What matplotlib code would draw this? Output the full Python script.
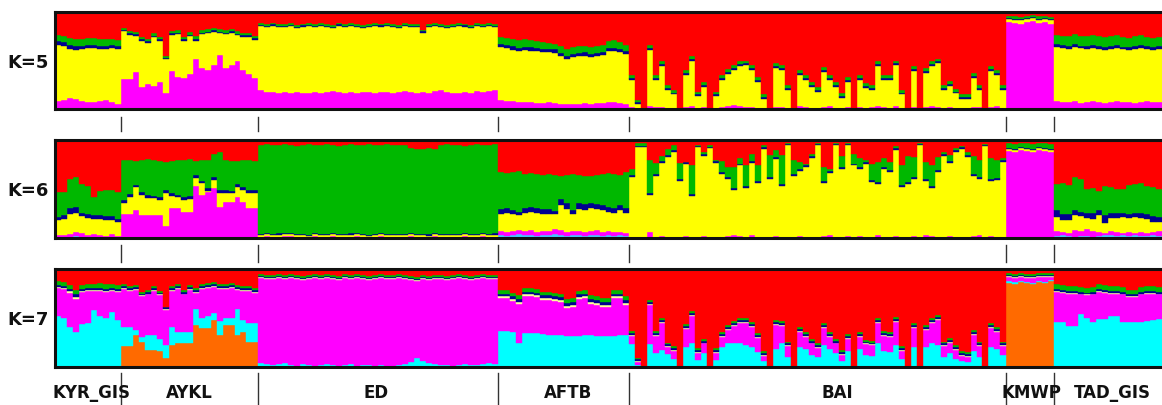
import numpy as np
import matplotlib.pyplot as plt
from matplotlib.transforms import blended_transform_factory

# populations, in plot order, and number of individuals in each
groups = ['KYR_GIS', 'AYKL', 'ED', 'AFTB', 'BAI', 'KMWP', 'TAD_GIS']
group_sizes = [11, 23, 40, 22, 63, 8, 18]

# ---- K=5 (percent, read from the bottom of each bar) ----
# magenta top, yellow top, navy band, start of red
k5_magenta = [
    8, 9, 11, 10, 8, 7, 7, 8, 9, 7, 5,
    31, 31, 38, 23, 26, 24, 28, 16, 39, 33, 32, 36, 52, 42, 40, 45, 56, 42, 45, 49, 40, 36, 32,
    20, 18, 18, 17, 18, 17, 18, 17, 17, 18, 17, 18, 19, 18, 17, 18, 17, 18, 18, 17,
    18, 18, 17, 18, 19, 18, 17, 18, 17, 19, 20, 18, 17, 17, 18, 17, 19, 18, 19, 20,
    9, 8, 8, 7, 7, 7, 6, 6, 7, 6, 5, 5, 5, 5, 6, 5, 6, 6, 7, 7, 6, 5,
    2, 0, 0, 3, 2, 2, 1, 1, 0, 2, 3, 1, 2, 0, 1, 2, 3, 4, 3, 2, 2, 1, 1, 0, 2,
    2, 1, 0, 3, 2, 1, 1, 2, 3, 1, 1, 2, 0, 2, 1, 2, 3, 2, 1, 3, 1, 0, 2, 0, 2, 3, 2, 1, 2, 1, 1, 1, 2, 2, 0, 2, 3, 1,
    90, 89, 88, 90, 91, 89, 90, 88,
    8, 7, 7, 8, 6, 7, 8, 7, 6, 7, 8, 7, 7, 6, 7, 8, 7, 7,
]
k5_yellow = [
    66, 65, 62, 61, 62, 63, 63, 62, 62, 63, 62,
    80, 76, 75, 70, 68, 74, 70, 52, 76, 77, 70, 75, 70, 77, 78, 79, 78, 77, 78, 76, 74, 74, 71,
    86, 85, 86, 85, 85, 86, 84, 85, 86, 85, 86, 85, 84, 86, 85, 86, 85, 84, 85, 86,
    85, 86, 85, 84, 86, 85, 85, 78, 85, 86, 85, 84, 85, 86, 85, 84, 86, 85, 86, 85,
    64, 63, 61, 60, 61, 60, 60, 59, 59, 58, 55, 52, 54, 55, 55, 54, 55, 56, 60, 60, 59, 57,
    30, 5, 0, 61, 30, 44, 20, 15, 0, 35, 50, 13, 23, 0, 13, 30, 36, 40, 44, 45, 40, 28, 10, 0, 42,
    40, 20, 0, 35, 30, 23, 18, 38, 30, 23, 11, 28, 0, 30, 22, 20, 44, 30, 30, 45, 15, 0, 39, 0, 37, 44, 47, 20, 24, 16, 10, 10, 32, 20, 0, 39, 35, 20,
    93, 92, 92, 93, 94, 92, 93, 92,
    64, 63, 62, 64, 63, 62, 63, 62, 61, 62, 63, 62, 61, 62, 63, 62, 61, 62,
]
k5_navy = [
    4, 4, 4, 4, 3, 3, 3, 3, 3, 3, 3,
    1, 2, 2, 2, 2, 1, 2, 1, 2, 1, 2, 1, 2, 1, 1, 2, 1, 1, 2, 1, 2, 2, 2,
    1, 1, 2, 1, 1, 1, 1, 2, 1, 1, 1, 1, 1, 2, 1, 1, 1, 1, 1, 1,
    2, 1, 1, 1, 1, 1, 1, 2, 1, 1, 1, 1, 1, 1, 2, 1, 1, 1, 1, 1,
    3, 3, 4, 3, 3, 4, 3, 3, 3, 4, 3, 3, 3, 3, 4, 3, 3, 3, 3, 3, 3, 3,
    2, 2, 1, 2, 2, 2, 2, 2, 1, 2, 2, 2, 2, 1, 2, 2, 2, 2, 2, 2, 2, 2, 2, 1, 2,
    2, 2, 1, 2, 2, 2, 2, 2, 2, 2, 2, 2, 1, 2, 2, 2, 2, 2, 2, 2, 2, 1, 2, 1, 2, 2, 2, 2, 2, 2, 2, 2, 2, 2, 1, 2, 2, 2,
    1, 1, 1, 1, 1, 1, 1, 1,
    3, 3, 3, 3, 2, 3, 3, 3, 3, 3, 3, 2, 3, 3, 3, 3, 3, 3,
]
k5_red = [
    76, 75, 73, 72, 72, 73, 73, 72, 72, 72, 71,
    84, 80, 79, 74, 72, 78, 74, 55, 80, 81, 74, 79, 75, 81, 82, 83, 82, 81, 82, 80, 78, 78, 75,
    89, 88, 89, 88, 88, 89, 87, 88, 89, 88, 89, 88, 87, 89, 88, 89, 88, 87, 88, 89,
    88, 89, 88, 87, 89, 88, 88, 81, 88, 89, 88, 87, 88, 89, 88, 87, 89, 88, 89, 88,
    74, 73, 72, 71, 72, 71, 70, 69, 68, 67, 65, 62, 64, 65, 65, 64, 65, 66, 70, 71, 69, 66,
    35, 9, 1, 66, 35, 49, 25, 20, 1, 40, 55, 18, 28, 1, 18, 35, 41, 45, 49, 50, 45, 33, 15, 1, 47,
    45, 25, 1, 40, 35, 28, 23, 43, 35, 28, 16, 33, 1, 35, 27, 25, 49, 35, 35, 50, 20, 1, 44, 1, 42, 49, 52, 25, 29, 21, 15, 15, 37, 25, 1, 44, 40, 25,
    96, 96, 95, 96, 97, 96, 96, 95,
    76, 75, 75, 77, 75, 75, 76, 75, 74, 75, 76, 74, 73, 75, 76, 74, 73, 74,
]

# ---- K=6 ----
# sky-blue band, magenta top, yellow top, navy band, start of red
k6_sky = [
    1, 0, 1, 2, 1, 0, 1, 1, 0, 1, 0,
    0, 0, 0, 0, 0, 0, 0, 0, 0, 0, 0, 0, 0, 0, 0, 0, 0, 0, 0, 0, 0, 0, 0,
    0, 0, 0, 0, 0, 1, 0, 0, 0, 0, 0, 0, 0, 0, 0, 0, 0, 0, 0, 0,
    0, 0, 0, 0, 0, 0, 0, 0, 0, 0, 0, 0, 0, 0, 0, 0, 0, 0, 0, 0,
    3, 2, 3, 4, 3, 3, 2, 3, 3, 4, 3, 2, 3, 3, 2, 3, 3, 2, 3, 2, 3, 2,
    0, 0, 0, 0, 0, 0, 0, 0, 0, 0, 0, 0, 0, 0, 0, 0, 0, 0, 0, 0, 0, 0, 0, 0, 0,
    0, 0, 0, 0, 0, 0, 0, 0, 0, 0, 0, 0, 0, 0, 0, 0, 0, 0, 0, 0, 0, 0, 0, 0, 0, 0, 0, 0, 0, 0, 0, 0, 0, 0, 0, 0, 0, 0,
    0, 0, 0, 0, 0, 0, 0, 0,
    2, 3, 2, 1, 2, 2, 1, 2, 3, 3, 2, 3, 2, 3, 2, 2, 3, 2,
]
k6_magenta = [
    3, 3, 4, 6, 5, 3, 4, 3, 2, 4, 2,
    24, 24, 29, 23, 23, 23, 23, 12, 31, 31, 27, 27, 53, 44, 47, 51, 32, 37, 37, 42, 37, 31, 31,
    1, 2, 1, 1, 2, 2, 1, 1, 1, 2, 1, 1, 2, 1, 1, 1, 2, 1, 1, 1,
    2, 1, 1, 1, 1, 2, 1, 1, 1, 2, 1, 1, 1, 1, 2, 1, 1, 2, 1, 1,
    7, 6, 7, 8, 7, 8, 6, 7, 7, 9, 8, 6, 7, 7, 6, 7, 8, 6, 7, 6, 6, 5,
    1, 0, 0, 6, 1, 2, 1, 1, 0, 2, 1, 1, 2, 1, 1, 1, 2, 3, 2, 1, 3, 1, 1, 0, 2,
    1, 1, 0, 2, 1, 1, 0, 2, 3, 1, 1, 2, 0, 2, 1, 1, 3, 1, 1, 2, 1, 0, 2, 0, 3, 2, 1, 1, 2, 1, 1, 1, 2, 3, 1, 2, 1, 1,
    89, 88, 90, 89, 88, 90, 89, 88,
    7, 6, 5, 8, 7, 9, 7, 6, 5, 7, 6, 5, 6, 5, 6, 5, 6, 7,
]
k6_yellow = [
    18, 19, 25, 26, 22, 20, 19, 19, 18, 18, 16,
    36, 42, 52, 44, 41, 41, 39, 46, 43, 42, 39, 40, 61, 56, 48, 59, 46, 46, 46, 52, 49, 46, 46,
    3, 4, 3, 3, 4, 4, 3, 3, 2, 4, 3, 3, 4, 3, 3, 3, 4, 3, 2, 3,
    4, 3, 3, 3, 3, 4, 3, 3, 2, 4, 3, 3, 3, 3, 4, 3, 3, 4, 3, 3,
    25, 26, 24, 23, 26, 27, 26, 25, 25, 24, 34, 30, 25, 30, 29, 31, 30, 29, 27, 26, 29, 26,
    62, 93, 93, 44, 63, 77, 83, 88, 58, 76, 43, 93, 84, 92, 77, 65, 60, 49, 74, 51, 77, 56, 91, 60, 81,
    53, 95, 63, 68, 72, 82, 95, 56, 66, 95, 70, 95, 74, 70, 76, 57, 55, 70, 67, 90, 52, 55, 60, 95, 58, 51, 67, 84, 77, 88, 91, 83, 63, 60, 94, 58, 59, 78,
    91, 90, 92, 91, 90, 92, 91, 90,
    21, 18, 18, 23, 22, 20, 19, 23, 15, 20, 20, 21, 20, 21, 20, 19, 16, 16,
]
k6_navy = [
    3, 4, 6, 6, 4, 4, 4, 4, 4, 4, 3,
    3, 3, 2, 3, 3, 2, 3, 3, 3, 2, 3, 3, 3, 2, 3, 3, 3, 3, 2, 3, 3, 3, 3,
    1, 1, 1, 2, 1, 1, 1, 1, 1, 1, 1, 1, 1, 1, 1, 2, 1, 1, 1, 1,
    1, 1, 1, 1, 1, 1, 1, 1, 2, 1, 1, 1, 1, 1, 1, 1, 1, 1, 1, 2,
    5, 5, 5, 4, 5, 5, 5, 5, 5, 4, 6, 6, 4, 6, 6, 5, 5, 5, 5, 5, 5, 5,
    2, 1, 1, 2, 2, 2, 2, 2, 2, 2, 2, 1, 2, 1, 2, 2, 2, 2, 2, 2, 2, 2, 2, 2, 2,
    2, 1, 2, 2, 2, 2, 1, 2, 2, 1, 2, 1, 2, 2, 2, 2, 2, 2, 2, 2, 2, 2, 2, 1, 2, 2, 2, 2, 2, 2, 2, 2, 2, 2, 1, 2, 2, 2,
    1, 1, 1, 1, 1, 1, 1, 1,
    8, 6, 7, 6, 5, 6, 7, 6, 8, 6, 6, 5, 5, 5, 6, 5, 6, 5,
]
k6_red = [
    47, 47, 60, 62, 55, 53, 42, 48, 49, 49, 47,
    80, 80, 79, 80, 81, 80, 79, 78, 79, 80, 80, 81, 79, 80, 80, 86, 88, 80, 79, 79, 80, 80, 79,
    95, 96, 95, 95, 96, 95, 94, 95, 96, 95, 95, 96, 95, 94, 95, 96, 95, 95, 96, 95,
    95, 96, 95, 95, 95, 92, 91, 91, 92, 91, 95, 96, 95, 95, 94, 95, 96, 95, 95, 96,
    67, 66, 67, 68, 65, 66, 65, 64, 65, 64, 63, 64, 65, 64, 63, 63, 64, 65, 66, 65, 64, 67,
    70, 97, 97, 80, 77, 84, 91, 95, 77, 78, 74, 95, 88, 95, 80, 79, 72, 72, 82, 74, 86, 74, 95, 85, 90,
    85, 97, 80, 78, 76, 86, 97, 72, 70, 97, 84, 97, 86, 82, 80, 76, 78, 82, 78, 94, 74, 84, 83, 97, 78, 74, 83, 88, 85, 92, 94, 88, 84, 80, 96, 82, 80, 82,
    97, 96, 97, 97, 96, 97, 97, 96,
    55, 56, 54, 62, 60, 50, 51, 48, 53, 52, 50, 50, 54, 55, 56, 53, 52, 50,
]

# ---- K=7 ----
# orange top, cyan top, magenta top, cream band, navy band, start of red
k7_orange = [
    0, 0, 0, 0, 0, 0, 0, 0, 0, 0, 0,
    21, 21, 33, 26, 17, 17, 16, 9, 22, 24, 24, 24, 43, 40, 40, 48, 33, 43, 43, 33, 36, 26, 26,
    0, 0, 0, 0, 0, 0, 0, 0, 0, 0, 0, 0, 0, 0, 0, 0, 0, 0, 0, 0,
    0, 0, 0, 0, 0, 0, 0, 0, 0, 0, 0, 0, 0, 0, 0, 0, 0, 0, 0, 0,
    1, 0, 1, 1, 0, 1, 1, 0, 1, 1, 1, 0, 1, 1, 0, 1, 1, 1, 0, 1, 1, 0,
    0, 0, 0, 0, 0, 0, 0, 0, 0, 0, 0, 0, 0, 0, 0, 0, 0, 0, 0, 0, 0, 0, 0, 0, 0,
    0, 0, 0, 0, 0, 0, 0, 0, 0, 0, 0, 0, 0, 0, 0, 0, 0, 0, 0, 0, 0, 0, 0, 0, 0, 0, 0, 0, 0, 0, 0, 0, 0, 0, 0, 0, 0, 0,
    86, 85, 87, 86, 85, 87, 86, 88,
    0, 0, 1, 1, 1, 0, 1, 1, 0, 0, 0, 0, 0, 0, 0, 0, 0, 0,
]
k7_cyan = [
    52, 50, 41, 36, 44, 45, 58, 52, 50, 56, 48,
    41, 41, 38, 31, 33, 33, 29, 22, 41, 36, 36, 36, 59, 50, 52, 55, 47, 50, 50, 59, 48, 45, 45,
    4, 3, 2, 3, 4, 2, 1, 3, 2, 1, 2, 3, 2, 1, 2, 3, 1, 2, 2, 1,
    2, 1, 1, 2, 3, 5, 9, 6, 4, 3, 2, 2, 1, 2, 3, 2, 2, 3, 4, 3,
    37, 37, 36, 25, 35, 35, 35, 34, 33, 33, 33, 32, 32, 32, 33, 33, 32, 32, 32, 32, 33, 33,
    23, 2, 0, 23, 14, 17, 13, 8, 0, 20, 25, 7, 14, 0, 7, 20, 24, 25, 25, 22, 20, 15, 6, 0, 18,
    24, 10, 0, 20, 18, 12, 10, 22, 18, 14, 6, 16, 0, 18, 12, 11, 24, 16, 15, 22, 8, 0, 20, 0, 20, 24, 22, 10, 14, 8, 6, 5, 16, 10, 0, 20, 18, 12,
    88, 87, 88, 87, 86, 88, 87, 89,
    46, 46, 42, 42, 54, 50, 46, 49, 49, 52, 52, 46, 46, 46, 46, 47, 48, 49,
]
k7_magenta = [
    81, 80, 76, 69, 77, 78, 78, 78, 77, 78, 77,
    80, 78, 79, 72, 74, 78, 73, 58, 78, 80, 74, 79, 76, 80, 81, 82, 80, 80, 81, 79, 78, 78, 76,
    91, 90, 90, 91, 90, 91, 90, 89, 90, 91, 90, 91, 90, 89, 91, 90, 91, 90, 89, 90,
    91, 90, 90, 91, 90, 89, 88, 90, 89, 90, 90, 89, 90, 91, 90, 89, 90, 91, 90, 90,
    70, 70, 67, 64, 72, 72, 71, 68, 68, 67, 66, 60, 61, 69, 70, 64, 63, 61, 61, 70, 70, 63,
    32, 5, 0, 63, 32, 45, 20, 16, 0, 39, 52, 14, 24, 0, 14, 31, 38, 42, 45, 45, 41, 30, 11, 0, 43,
    42, 21, 0, 36, 31, 24, 19, 40, 31, 24, 12, 29, 0, 31, 23, 22, 45, 32, 31, 46, 16, 0, 40, 0, 38, 45, 48, 21, 25, 17, 11, 10, 33, 21, 0, 40, 36, 21,
    92, 91, 92, 91, 91, 92, 92, 92,
    77, 76, 75, 75, 74, 73, 74, 77, 76, 75, 75, 74, 71, 71, 74, 75, 75, 74,
]
k7_cream = [
    1, 1, 2, 2, 1, 1, 1, 1, 1, 1, 1,
    1, 1, 1, 1, 1, 1, 1, 1, 1, 1, 1, 1, 1, 1, 1, 1, 1, 1, 1, 1, 1, 1, 1,
    1, 1, 1, 1, 1, 1, 1, 1, 1, 1, 1, 1, 1, 1, 1, 1, 1, 1, 1, 1,
    1, 1, 1, 1, 1, 1, 1, 1, 1, 1, 1, 1, 1, 1, 1, 1, 1, 1, 1, 1,
    2, 2, 2, 2, 2, 2, 2, 2, 2, 2, 2, 2, 2, 2, 2, 2, 2, 2, 2, 2, 2, 2,
    1, 1, 0, 1, 1, 1, 1, 1, 0, 1, 1, 1, 1, 0, 1, 1, 1, 1, 1, 1, 1, 1, 1, 0, 1,
    1, 1, 0, 1, 1, 1, 1, 1, 1, 1, 1, 1, 0, 1, 1, 1, 1, 1, 1, 1, 1, 0, 1, 0, 1, 1, 1, 1, 1, 1, 1, 1, 1, 1, 0, 1, 1, 1,
    1, 1, 1, 1, 1, 1, 1, 1,
    1, 1, 1, 1, 1, 1, 1, 1, 1, 1, 1, 1, 1, 1, 1, 1, 1, 1,
]
k7_navy = [
    2, 2, 2, 3, 2, 2, 2, 2, 2, 2, 2,
    2, 2, 2, 2, 2, 2, 2, 2, 2, 2, 2, 2, 2, 2, 2, 2, 2, 2, 2, 2, 2, 2, 2,
    1, 1, 1, 1, 1, 1, 1, 1, 1, 1, 1, 1, 1, 1, 1, 1, 1, 1, 1, 1,
    1, 1, 1, 1, 1, 1, 1, 1, 1, 1, 1, 1, 1, 1, 1, 1, 1, 1, 1, 1,
    3, 3, 3, 3, 3, 3, 3, 3, 3, 3, 3, 3, 3, 3, 3, 3, 3, 3, 3, 3, 3, 3,
    2, 2, 1, 2, 2, 2, 2, 2, 1, 2, 2, 2, 2, 1, 2, 2, 2, 2, 2, 2, 2, 2, 2, 1, 2,
    2, 2, 1, 2, 2, 2, 2, 2, 2, 2, 2, 2, 1, 2, 2, 2, 2, 2, 2, 2, 2, 1, 2, 1, 2, 2, 2, 2, 2, 2, 2, 2, 2, 2, 1, 2, 2, 2,
    1, 1, 1, 1, 1, 1, 1, 1,
    2, 2, 2, 2, 2, 2, 2, 2, 2, 2, 2, 2, 2, 2, 2, 2, 2, 2,
]
k7_red = [
    88, 87, 84, 79, 84, 85, 85, 86, 85, 85, 84,
    85, 83, 84, 77, 79, 83, 78, 61, 83, 85, 79, 84, 81, 85, 86, 87, 85, 85, 86, 84, 83, 83, 81,
    95, 94, 94, 95, 94, 95, 94, 93, 94, 95, 94, 95, 94, 93, 95, 94, 95, 94, 93, 94,
    95, 94, 94, 95, 94, 93, 92, 94, 93, 94, 94, 93, 94, 95, 94, 93, 94, 95, 94, 94,
    79, 79, 76, 73, 81, 81, 80, 77, 77, 76, 75, 69, 70, 78, 79, 73, 72, 70, 70, 79, 79, 72,
    37, 9, 1, 68, 37, 50, 25, 21, 1, 44, 57, 19, 29, 1, 19, 36, 43, 47, 50, 50, 46, 35, 16, 1, 48,
    47, 26, 1, 41, 36, 29, 24, 45, 36, 29, 17, 34, 1, 36, 28, 27, 50, 37, 36, 51, 21, 1, 45, 1, 43, 50, 53, 26, 30, 22, 16, 15, 38, 26, 1, 45, 41, 26,
    96, 95, 96, 95, 95, 96, 96, 96,
    85, 84, 83, 83, 82, 81, 82, 85, 84, 83, 83, 82, 79, 79, 82, 83, 83, 82,
]

RED, GREEN, NAVY = '#ff0000', '#00b800', '#000090'
YELLOW, MAGENTA = '#ffff00', '#ff00ff'
SKY, CYAN, ORANGE, CREAM = '#40c8ff', '#00ffff', '#ff6a00', '#ffff9a'
FONT = ['Liberation Sans Narrow', 'DejaVu Sans']

n_ind = sum(group_sizes)
for name, arr in [('k5_magenta', k5_magenta), ('k5_yellow', k5_yellow), ('k5_navy', k5_navy), ('k5_red', k5_red),
                  ('k6_sky', k6_sky), ('k6_magenta', k6_magenta), ('k6_yellow', k6_yellow), ('k6_navy', k6_navy),
                  ('k6_red', k6_red), ('k7_orange', k7_orange), ('k7_cyan', k7_cyan), ('k7_magenta', k7_magenta),
                  ('k7_cream', k7_cream), ('k7_navy', k7_navy), ('k7_red', k7_red)]:
    assert len(arr) == n_ind, (name, len(arr))

a = lambda v: np.array(v, dtype=float)


def k5_layers():
    m, y, nv, r = a(k5_magenta), a(k5_yellow), a(k5_navy), a(k5_red)
    return [(m, MAGENTA), (y - m, YELLOW), (nv, NAVY), (r - y - nv, GREEN), (100 - r, RED)]


def k6_layers():
    s, m, y, nv, r = a(k6_sky), a(k6_magenta), a(k6_yellow), a(k6_navy), a(k6_red)
    return [(s, SKY), (m - s, MAGENTA), (y - m, YELLOW), (nv, NAVY), (r - y - nv, GREEN), (100 - r, RED)]


def k7_layers():
    o, c, m = a(k7_orange), a(k7_cyan), a(k7_magenta)
    cr, nv, r = a(k7_cream), a(k7_navy), a(k7_red)
    return [(o, ORANGE), (c - o, CYAN), (m - c, MAGENTA), (cr, CREAM), (nv, NAVY),
            (r - m - cr - nv, GREEN), (100 - r, RED)]


W, H = 1162, 405
fig = plt.figure(figsize=(W / 100, H / 100), dpi=100)
fig.patch.set_facecolor('white')

panels = [('K=5', k5_layers(), (12, 109), (117, 131)),
          ('K=6', k6_layers(), (140, 238), (245, 262)),
          ('K=7', k7_layers(), (269, 367), (373, 405))]

x = np.arange(n_ind)
bounds = np.cumsum(group_sizes)

for label, layers, (top, bot), (s0, s1) in panels:
    ax = fig.add_axes([55 / W, 1 - bot / H, 1 - 55 / W, (bot - top) / H])
    bottom = np.zeros(n_ind)
    for h, col in layers:
        h = np.clip(h, 0, None)
        ax.bar(x, h, bottom=bottom, width=1.0, align='edge', color=col,
               edgecolor=col, linewidth=0.3)
        bottom = bottom + h
    ax.set_xlim(0, n_ind)
    ax.set_ylim(0, 100)
    ax.set_xticks([])
    ax.set_yticks([])
    for sp in ['top', 'bottom', 'left']:
        ax.spines[sp].set_linewidth(2.2)
        ax.spines[sp].set_color('#111111')
    ax.spines['right'].set_visible(False)

    fig.text(28 / W, 1 - ((top + bot) / 2 + 2) / H, label, ha='center', va='center',
             fontsize=13, fontweight='bold', color='#111111', family=FONT)

    tr = blended_transform_factory(ax.transData, fig.transFigure)
    for b in bounds[:-1]:
        ax.plot([b, b], [1 - s0 / H, 1 - s1 / H], color='#333333', lw=1.0,
                transform=tr, clip_on=False)

# population names under the last panel (pixel centres as in the original)
label_px = [92, 189, 376, 568, 837, 1031, 1112]
for g, px in zip(groups, label_px):
    fig.text(px / W, 1 - 393 / H, g, ha='center', va='center',
             fontsize=12, fontweight='bold', color='#111111', family=FONT)

fig.savefig('out.png', dpi=100)
